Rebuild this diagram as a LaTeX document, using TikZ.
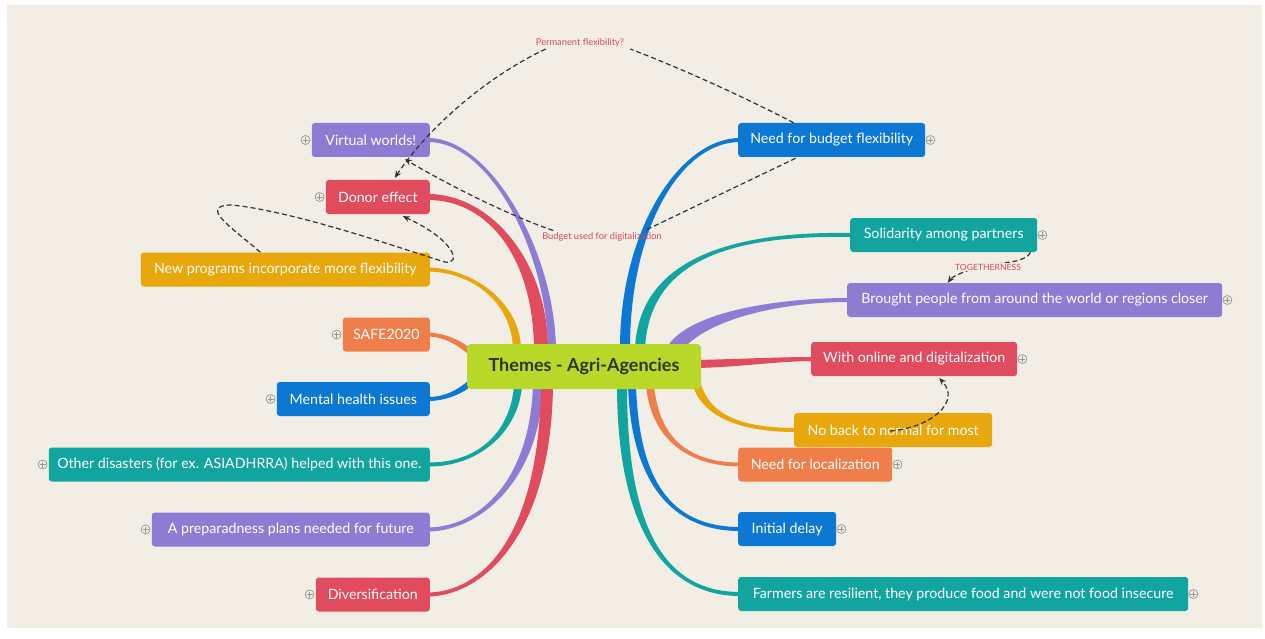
\documentclass[tikz,border=0pt]{standalone}
\usepackage{fontspec}
\setmainfont{Lato}
\usetikzlibrary{calc,arrows.meta}
\definecolor{paper}{RGB}{242,238,230}
\definecolor{cpurple}{RGB}{142,124,212}
\definecolor{cred}{RGB}{224,75,94}
\definecolor{cyellow}{RGB}{232,167,12}
\definecolor{corange}{RGB}{240,126,74}
\definecolor{cblue}{RGB}{12,120,212}
\definecolor{cteal}{RGB}{18,165,160}
\definecolor{clime}{RGB}{184,216,42}
\definecolor{ctext}{RGB}{46,52,30}
\definecolor{labelred}{RGB}{214,72,88}
\definecolor{relgray}{RGB}{50,50,50}
\definecolor{plusgray}{RGB}{150,150,150}
\pgfdeclarelayer{paperlayer}
\pgfdeclarelayer{branchlayer}
\pgfsetlayers{paperlayer,branchlayer,main}
\tikzset{
  box/.style={rounded corners=3pt, minimum height=34pt, inner sep=0pt, text=white,
    font=\fontsize{14.2}{16}\selectfont},
  lbox/.style={box, anchor=east},
  rbox/.style={box, anchor=west},
  plusic/.style={circle, draw=plusgray, line width=0.7pt, minimum size=9pt, inner sep=0pt,
    path picture={\draw[plusgray, line width=0.7pt]
      ([xshift=-3pt]path picture bounding box.center) -- ([xshift=3pt]path picture bounding box.center)
      ([yshift=-3pt]path picture bounding box.center) -- ([yshift=3pt]path picture bounding box.center);}},
  rel/.style={dash pattern=on 5pt off 3pt, line width=1.2pt, draw=relgray},
  relarrow/.style={rel, -{Stealth[length=7pt,width=6pt]}},
  rellabel/.style={text=labelred, font=\fontsize{9.3}{11}\selectfont, inner sep=1pt},
  centre/.style={fill=clime, rounded corners=4pt, minimum width=234pt, minimum height=45pt,
    inner sep=0pt, text=ctext, font=\bfseries\fontsize{18}{21}\selectfont}
}
% tapered branch: colour, start, control1, control2, end, half width start, half width end
\newcommand\taper[7]{%
  \path (#2) coordinate (tS) (#3) coordinate (tCa) (#4) coordinate (tCb) (#5) coordinate (tE);
  \path ($(tS)!#6!90:(tCa)$) coordinate (sA) ($(tS)!#6!-90:(tCa)$) coordinate (sB)
        ($(tE)!#7!-90:(tCb)$) coordinate (eA) ($(tE)!#7!90:(tCb)$) coordinate (eB);
  \fill[#1] (sA) .. controls ($(tCa)+(sA)-(tS)$) and ($(tCb)+(eA)-(tE)$) .. (eA) -- (eB)
     .. controls ($(tCb)+(eB)-(tE)$) and ($(tCa)+(sB)-(tS)$) .. (sB) -- cycle;
}
\begin{document}
\begin{tikzpicture}[x=1pt,y=-1pt]
\useasboundingbox (0,0) rectangle (1265,639);
\begin{pgfonlayer}{paperlayer}
  \fill[white] (0,0) rectangle (1265,639);
  \fill[paper] (7,5) rectangle (1262,628);
\end{pgfonlayer}

% centre
\node[centre] (c) at (584,366.5) {Themes - Agri-Agencies};

% left nodes
\node[lbox, fill=cpurple, minimum width=118pt] (vw) at (430,140) {Virtual worlds!};
\node[lbox, fill=cred, minimum width=104pt] (de) at (430,197) {Donor effect};
\node[lbox, fill=cyellow, minimum width=289pt] (np) at (430,269.5) {New programs incorporate more flexibility};
\node[lbox, fill=corange, minimum width=87pt] (safe) at (430,334.5) {SAFE2020};
\node[lbox, fill=cblue, minimum width=153pt] (mh) at (430,399) {Mental health issues};
\node[lbox, fill=cteal, minimum width=381pt] (od) at (430,464.5) {Other disasters (for ex. ASIADHRRA) helped with this one.};
\node[lbox, fill=cpurple, minimum width=278pt] (pp) at (430,529.5) {A preparadness plans needed for future};
\node[lbox, fill=cred, minimum width=114pt] (dv) at (430,594.5) {Diversification};

% right nodes
\node[rbox, fill=cblue, minimum width=187pt] (nb) at (738,140) {Need for budget flexibility};
\node[rbox, fill=cteal, minimum width=187pt] (sol) at (850,235) {Solidarity among partners};
\node[rbox, fill=cpurple, minimum width=375pt] (bp) at (847,300) {Brought people from around the world or regions closer};
\node[rbox, fill=cred, minimum width=206pt] (wo) at (811,359) {With online and digitalization};
\node[rbox, fill=cyellow, minimum width=198pt] (nbn) at (794,430) {No back to normal for most};
\node[rbox, fill=corange, minimum width=154pt] (nl) at (738,464.5) {Need for localization};
\node[rbox, fill=cblue, minimum width=98pt] (id) at (738,529) {Initial delay};
\node[rbox, fill=cteal, minimum width=450pt] (fr) at (738,594) {Farmers are resilient, they produce food and were not food insecure};

% expand icons
\node[plusic] (vwp) at ($(vw.west)+(-6,0)$) {};
\node[plusic] (dep) at ($(de.west)+(-6,0)$) {};
\node[plusic] (safep) at ($(safe.west)+(-6,0)$) {};
\node[plusic] (mhp) at ($(mh.west)+(-6,0)$) {};
\node[plusic] (odp) at ($(od.west)+(-6,0)$) {};
\node[plusic] (ppp) at ($(pp.west)+(-6,0)$) {};
\node[plusic] (dvp) at ($(dv.west)+(-6,0)$) {};
\node[plusic] (nbp) at ($(nb.east)+(5,0)$) {};
\node[plusic] (solp) at ($(sol.east)+(5,0)$) {};
\node[plusic] (bpp) at ($(bp.east)+(5,0)$) {};
\node[plusic] (wop) at ($(wo.east)+(5,0)$) {};
\node[plusic] (nlp) at ($(nl.east)+(5,0)$) {};
\node[plusic] (idp) at ($(id.east)+(5,0)$) {};
\node[plusic] (frp) at ($(fr.east)+(5,0)$) {};

% branches
\begin{pgfonlayer}{branchlayer}
  \taper{cpurple}{$(c.north)+(-32,4)$}{550,250}{490,140}{$(vw.east)+(-2,0)$}{4pt}{2pt}
  \taper{cred}{$(c.north)+(-43,4)$}{540,260}{490,197}{$(de.east)+(-2,0)$}{7pt}{3pt}
  \taper{cyellow}{$(c.north)+(-67,4)$}{515,300}{470,270}{$(np.east)+(-2,0)$}{4pt}{2pt}
  \taper{corange}{$(c.west)+(4,-14)$}{460,343}{445,335}{$(safe.east)+(-2,0)$}{3pt}{2pt}
  \taper{cblue}{$(c.west)+(4,16)$}{460,392}{445,399}{$(mh.east)+(-2,0)$}{3pt}{2pt}
  \taper{cteal}{$(c.south)+(-66,-4)$}{515,430}{480,465}{$(od.east)+(-2,0)$}{4pt}{2pt}
  \taper{cpurple}{$(c.south)+(-46,-4)$}{535,480}{480,529}{$(pp.east)+(-2,0)$}{5pt}{2pt}
  \taper{cred}{$(c.south)+(-37,-4)$}{545,540}{480,594}{$(dv.east)+(-2,0)$}{6pt}{2pt}
  \taper{cblue}{$(c.north)+(41,4)$}{625,230}{680,140}{$(nb.west)+(2,0)$}{5pt}{2pt}
  \taper{cteal}{$(c.north)+(56,4)$}{645,255}{740,233}{$(sol.west)+(2,0)$}{5pt}{2pt}
  \taper{cpurple}{$(c.north)+(91,4)$}{700,315}{780,300}{$(bp.west)+(2,0)$}{7pt}{2pt}
  \taper{cred}{$(c.east)+(-4,-2.5)$}{740,363}{780,359}{$(wo.west)+(2,0)$}{4pt}{2pt}
  \taper{cyellow}{$(c.south)+(113,-4)$}{705,410}{730,430}{$(nbn.west)+(2,0)$}{4pt}{2pt}
  \taper{corange}{$(c.south)+(66,-4)$}{655,440}{690,464.5}{$(nl.west)+(2,0)$}{4pt}{2pt}
  \taper{cblue}{$(c.south)+(48,-4)$}{635,480}{670,529}{$(id.west)+(2,0)$}{4pt}{2pt}
  \taper{cteal}{$(c.south)+(38,-4)$}{622,520}{660,594}{$(fr.west)+(2,0)$}{5pt}{2pt}
\end{pgfonlayer}

% relationship labels
\node[rellabel] (pf) at (580,43) {Permanent flexibility?};
\node[rellabel] (bu) at (602,237) {Budget used for digitalization};

% relationships
\draw[rel] ($(nb.north)+(-38,0)$) .. controls (740,95) and (680,68) .. ($(pf.east)+(5,6)$);
\draw[relarrow] ($(pf.west)+(11,6)$) .. controls (490,75) and (430,125) .. ($(de.north)+(17,-2)$);
\draw[rel] ($(nb.south)+(-36,1)$) -- ($(bu.north east)+(-16,-2)$);
\draw[relarrow] ($(bu.north west)+(12,-1)$) .. controls (500,212) and (440,180) .. ($(vw.south)+(34,2)$);
\draw[relarrow] ($(np.north)+(-25,0)$) .. controls (238,232) and (195,205) .. (232,205)
   .. controls (300,212) and (420,255) .. (445,262)
   .. controls (462,265) and (455,240) .. ($(de.south)+(25,2)$);
\draw[relarrow] ($(sol.south east)+(-7,0)$) .. controls (1025,265) and (990,262) .. (975,268)
   .. controls (960,273) and (952,277) .. ($(bp.north)+(-87,0)$);
\node[rellabel, fill=paper] (tg) at (988,267) {\fontsize{8.6}{10}\selectfont TOGETHERNESS};
\draw[relarrow] ($(nbn.center)+(-3,1)$) .. controls (930,428) and (962,402) .. ($(wo.south)+(25,2)$);
\end{tikzpicture}
\end{document}
